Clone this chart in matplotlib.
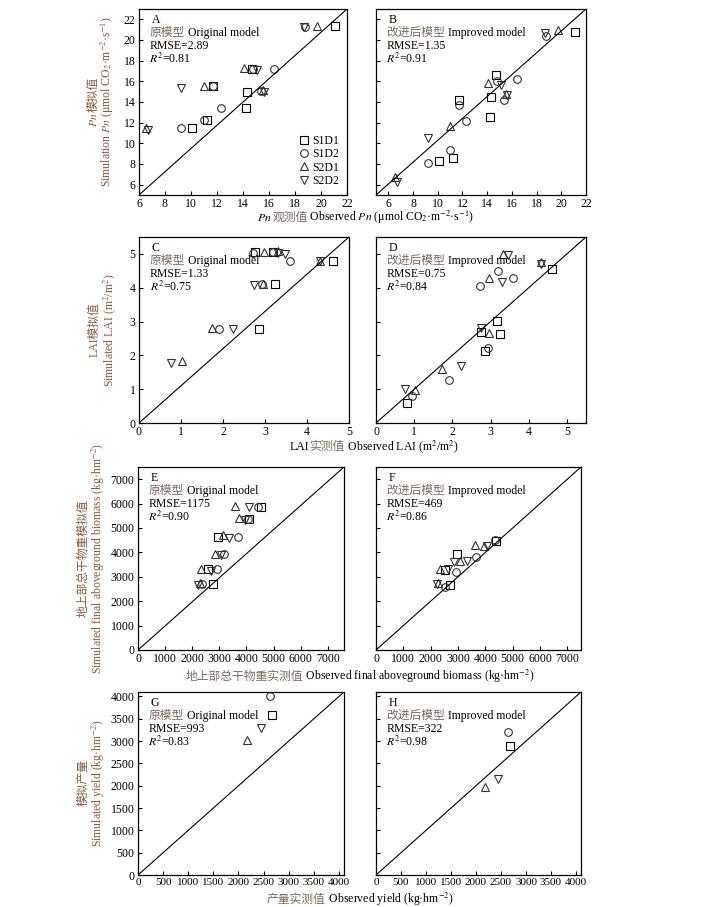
import numpy as np
import matplotlib
matplotlib.use('Agg')
import matplotlib.pyplot as plt
from matplotlib.transforms import IdentityTransform

plt.rcParams['font.family'] = ['Liberation Serif', 'Noto Sans CJK SC']
plt.rcParams['mathtext.fontset'] = 'stix'
plt.rcParams['font.size'] = 8.5

nan = np.nan
treatments = ['S1D1', 'S1D2', 'S2D1', 'S2D2']
markers = ['s', 'o', '^', 'v']
mcolors = ['black', '#333333', '#333333', '#333333']

# Pn (umol CO2 m-2 s-1)
pn_obs_s1d1 = [10.1, 11.2, 11.7, 14.2, 14.3, 14.7, 21.1]
pn_orig_s1d1 = [11.45, 12.3, 15.5, 13.4, 15.0, 17.2, 21.4]
pn_impr_s1d1 = [8.3, 8.6, 14.15, 12.55, 14.5, 16.6, 20.8]
pn_obs_s1d2 = [9.2, 11.0, 11.7, 12.3, 14.8, 15.4, 16.4, 18.8]
pn_orig_s1d2 = [11.45, 12.3, 15.5, 13.4, 17.2, 15.05, 17.2, 21.3]
pn_impr_s1d2 = [8.1, 9.4, 13.7, 12.2, 16.0, 14.2, 16.2, 20.4]
pn_obs_s2d1 = [6.5, 11.0, 14.1, 15.5, 19.7]
pn_orig_s2d1 = [11.5, 15.5, 17.3, 15.2, 21.4]
pn_impr_s2d1 = [6.7, 11.7, 15.8, 14.8, 21.0]
pn_obs_s2d2 = [6.7, 9.2, 15.1, 15.6, 18.7]
pn_orig_s2d2 = [11.3, 15.4, 17.1, 14.95, 21.3]
pn_impr_s2d2 = [6.3, 10.5, 15.6, 14.7, 20.7]

# LAI (m2/m2)
lai_obs_s1d1 = [0.81, 2.76, 2.85, 3.18, 3.24, 4.61]
lai_orig_s1d1 = [nan, 5.07, 2.79, 5.05, 4.10, 4.79]
lai_impr_s1d1 = [0.58, 2.68, 2.13, 3.01, 2.64, 4.55]
lai_obs_s1d2 = [0.94, 1.91, 2.72, 2.94, 3.19, 3.59]
lai_orig_s1d2 = [nan, 2.79, 5.03, 4.1, 5.07, 4.79]
lai_impr_s1d2 = [0.80, 1.26, 4.04, 2.23, 4.50, 4.30]
lai_obs_s2d1 = [1.02, 1.74, 2.95, 2.97, 3.32, 4.32]
lai_orig_s2d1 = [1.82, 2.82, 4.12, 5.05, 5.1, 4.8]
lai_impr_s2d1 = [0.97, 1.6, 2.65, 4.28, 5.0, 4.76]
lai_obs_s2d2 = [0.75, 2.23, 2.74, 3.31, 3.47, 4.32]
lai_orig_s2d2 = [1.78, 2.77, 4.08, 5.02, 5.0, 4.78]
lai_impr_s2d2 = [1.0, 1.68, 2.80, 4.18, 4.98, 4.71]

# final aboveground biomass (kg hm-2), original model
bio_obs_e_s1d1 = [2760, 2580, 2960, 4090, 4520]
bio_orig_s1d1 = [2690, 3320, 4640, 5350, 5880]
bio_obs_e_s1d2 = [2370, 2920, 3170, 3680, 4050, 4420]
bio_orig_s1d2 = [2690, 3320, 3920, 4640, 5350, 5880]
bio_obs_e_s2d1 = [2270, 2330, 2850, 3130, 3720, 3590]
bio_orig_s2d1 = [2730, 3340, 3940, 4700, 5390, 5890]
bio_obs_e_s2d2 = [2210, 2700, 3070, 3370, 3950, 4110]
bio_orig_s2d2 = [2660, 3250, 3890, 4600, 5310, 5880]
# improved model
bio_obs_f_s1d1 = [2700, 2520, 2950, 4400]
bio_impr_s1d1 = [2660, 3270, 3920, 4470]
bio_obs_f_s1d2 = [2530, 2910, 3650, 4340]
bio_impr_s1d2 = [2590, 3200, 3820, 4500]
bio_obs_f_s2d1 = [2250, 2340, 3070, 3610, 3950]
bio_impr_s2d1 = [2730, 3340, 3640, 4300, 4280]
bio_obs_f_s2d2 = [2220, 2640, 2860, 3330, 4060]
bio_impr_s2d2 = [2690, 3340, 3600, 3640, 4270]

# yield (kg hm-2), order S1D1, S1D2, S2D1, S2D2
yld_obs = [2670, 2630, 2170, 2440]
yld_orig = [3595, 4010, 3030, 3290]
yld_impr = [2880, 3200, 1980, 2150]

W, H = 708, 907
fig = plt.figure(figsize=(W / 100, H / 100), dpi=100)

ylab_color = '#8b5a3c'
cn_color = '#7d6b5d'


def make_ax(left, top, right, bottom):
    return fig.add_axes([left / W, 1 - bottom / H, (right - left) / W, (bottom - top) / H])


def panel(ax, xs, ys, xlim, ylim, xticks, yticks, letter, model, rmse, r2, show_y):
    for x, y, m, c, lab in zip(xs, ys, markers, mcolors, treatments):
        ax.plot(x, y, ls='none', marker=m, ms=5.5, mfc='none', mec=c, mew=0.8, label=lab)
    ax.plot([0, 1], [0, 1], transform=ax.transAxes, color='black', lw=0.8)
    ax.set_xlim(*xlim)
    ax.set_ylim(*ylim)
    ax.set_xticks(xticks)
    ax.set_yticks(yticks)
    ax.tick_params(direction='in', length=3, width=0.8, labelsize=8.5, pad=2.5)
    if not show_y:
        ax.set_yticklabels([])
    for s in ax.spines.values():
        s.set_linewidth(0.9)
    kw = dict(transform=ax.transAxes, va='center', ha='left', fontsize=8.5)
    ax.text(0.06, 0.94, letter, **kw)
    cn, en = model
    t = ax.text(0.05, 0.87, cn, color=cn_color, **kw)
    ax.annotate(' ' + en, xycoords=t, xy=(1, 0.5), va='center', ha='left', fontsize=8.5)
    ax.text(0.05, 0.80, 'RMSE=' + rmse, **kw)
    ax.text(0.05, 0.73, r'$R^2$=' + r2, **kw)


# mixed Chinese / mathtext labels: pieces laid out one after another, in pixels
rich_items = []


def rich(cx, cy, parts, vertical=False):
    texts = []
    for s, c in parts:
        t = fig.text(0, 0, s, transform=IdentityTransform(), color=c, fontsize=8.5,
                     ha='left', va='baseline', rotation=90 if vertical else 0,
                     rotation_mode='anchor')
        texts.append(t)
    rich_items.append((cx, cy, texts, vertical))


def layout_rich():
    fig.canvas.draw()
    r = fig.canvas.get_renderer()
    for cx, cy, texts, vertical in rich_items:
        sizes = []
        for t in texts:
            bb = t.get_window_extent(r)
            sizes.append(bb.height if vertical else bb.width)
        total = sum(sizes)
        if vertical:
            pos = (H - cy) - total / 2
            for t, s in zip(texts, sizes):
                t.set_position((cx + 3, pos))
                pos += s
        else:
            pos = cx - total / 2
            for t, s in zip(texts, sizes):
                t.set_position((pos, H - cy - 3))
                pos += s


orig = ('原模型', 'Original model')
impr = ('改进后模型', 'Improved model')

# row 1: Pn
axA = make_ax(139, 9, 347, 195)
axB = make_ax(376, 9, 586, 195)
pn_ticks = np.arange(6, 23, 2)
panel(axA, [pn_obs_s1d1, pn_obs_s1d2, pn_obs_s2d1, pn_obs_s2d2],
      [pn_orig_s1d1, pn_orig_s1d2, pn_orig_s2d1, pn_orig_s2d2],
      (6, 22), (5, 23), pn_ticks, pn_ticks, 'A', orig, '2.89', '0.81', True)
panel(axB, [pn_obs_s1d1, pn_obs_s1d2, pn_obs_s2d1, pn_obs_s2d2],
      [pn_impr_s1d1, pn_impr_s1d2, pn_impr_s2d1, pn_impr_s2d2],
      (5, 22), (5, 23), pn_ticks, pn_ticks, 'B', impr, '1.35', '0.91', False)
axA.legend(loc='lower right', frameon=False, handlelength=0.8, handletextpad=0.3,
           labelspacing=0.1, borderaxespad=0.3, fontsize=8.5)
rich(94, 102, [(r'$Pn$', ylab_color), ('模拟值', ylab_color)], vertical=True)
rich(108, 102, [(r'Simulation $Pn$ (μmol CO$_2$·m$^{-2}$·s$^{-1}$)', ylab_color)], vertical=True)
rich(366, 218, [(r'$Pn$', 'black'), ('观测值', cn_color),
                (r' Observed $Pn$ (μmol CO$_2$·m$^{-2}$·s$^{-1}$)', 'black')])

# row 2: LAI
axC = make_ax(139, 237, 349, 423)
axD = make_ax(376, 237, 586, 423)
lai_ticks = np.arange(0, 6, 1)
panel(axC, [lai_obs_s1d1, lai_obs_s1d2, lai_obs_s2d1, lai_obs_s2d2],
      [lai_orig_s1d1, lai_orig_s1d2, lai_orig_s2d1, lai_orig_s2d2],
      (0, 5), (0, 5.5), lai_ticks, lai_ticks, 'C', orig, '1.33', '0.75', True)
panel(axD, [lai_obs_s1d1, lai_obs_s1d2, lai_obs_s2d1, lai_obs_s2d2],
      [lai_impr_s1d1, lai_impr_s1d2, lai_impr_s2d1, lai_impr_s2d2],
      (0, 5.5), (0, 5.5), lai_ticks, lai_ticks, 'D', impr, '0.75', '0.84', False)
rich(95, 330, [('LAI模拟值', ylab_color)], vertical=True)
rich(110, 330, [(r'Simulated LAI (m$^2$/m$^2$)', ylab_color)], vertical=True)
rich(374, 447, [('LAI', 'black'), ('实测值', cn_color),
                (r' Observed LAI (m$^2$/m$^2$)', 'black')])

# row 3: biomass
axE = make_ax(138, 467, 344, 650)
axF = make_ax(376, 467, 581, 650)
bio_ticks = np.arange(0, 7001, 1000)
panel(axE, [bio_obs_e_s1d1, bio_obs_e_s1d2, bio_obs_e_s2d1, bio_obs_e_s2d2],
      [bio_orig_s1d1, bio_orig_s1d2, bio_orig_s2d1, bio_orig_s2d2],
      (0, 7600), (0, 7500), bio_ticks, bio_ticks, 'E', orig, '1175', '0.90', True)
panel(axF, [bio_obs_f_s1d1, bio_obs_f_s1d2, bio_obs_f_s2d1, bio_obs_f_s2d2],
      [bio_impr_s1d1, bio_impr_s1d2, bio_impr_s2d1, bio_impr_s2d2],
      (0, 7500), (0, 7500), bio_ticks, bio_ticks, 'F', impr, '469', '0.86', False)
rich(84, 558, [('地上部总干物重模拟值', ylab_color)], vertical=True)
rich(99, 558, [(r'Simulated final aboveground biomass (kg·hm$^{-2}$)', ylab_color)], vertical=True)
rich(360, 677, [('地上部总干物重实测值', cn_color),
                (r' Observed final aboveground biomass (kg·hm$^{-2}$)', 'black')])

# row 4: yield
axG = make_ax(138, 692, 344, 875)
axH = make_ax(376, 692, 581, 875)
yld_ticks = np.arange(0, 4001, 500)
panel(axG, [[v] for v in yld_obs], [[v] for v in yld_orig],
      (0, 4100), (0, 4100), yld_ticks, yld_ticks, 'G', orig, '993', '0.83', True)
panel(axH, [[v] for v in yld_obs], [[v] for v in yld_impr],
      (0, 4100), (0, 4100), yld_ticks, yld_ticks, 'H', impr, '322', '0.98', False)
axG.tick_params(axis='x', labelsize=8)
axH.tick_params(axis='x', labelsize=8)
rich(84, 783, [('模拟产量', ylab_color)], vertical=True)
rich(99, 783, [(r'Simulated yield (kg·hm$^{-2}$)', ylab_color)], vertical=True)
rich(360, 900, [('产量实测值', cn_color), (r' Observed yield (kg·hm$^{-2}$)', 'black')])

layout_rich()
fig.savefig('out.png', dpi=100)
